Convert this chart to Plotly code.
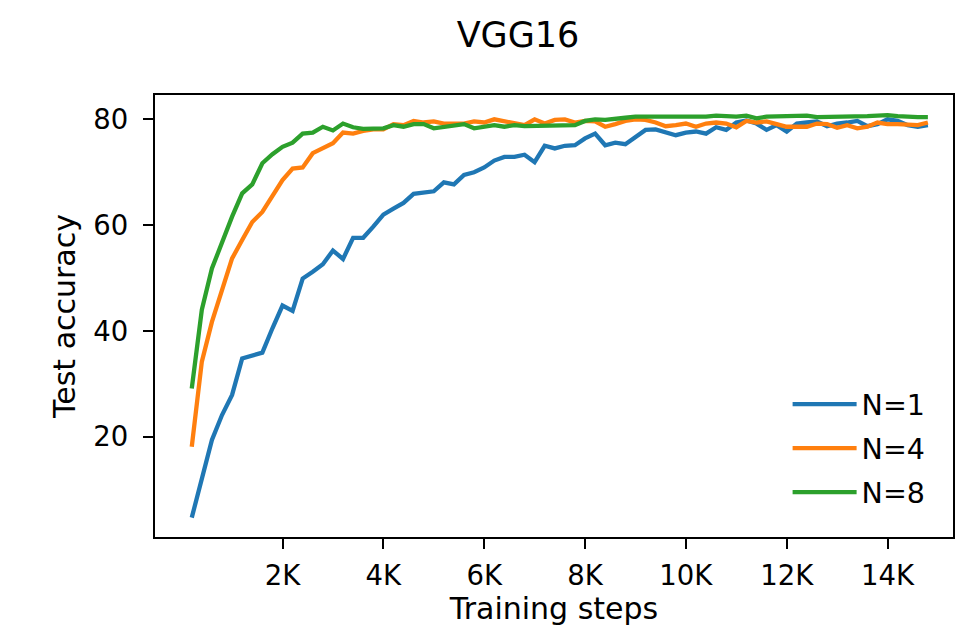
import plotly.graph_objects as go

steps = [200 * k for k in range(1, 75)]

acc_n1 = [4.7, 12.1, 19.4, 24.1, 27.9, 34.8, 35.4, 35.9, 40.5, 44.8,
          43.8, 49.9, 51.2, 52.6, 55.2, 53.6, 57.6, 57.6, 59.7, 62.0,
          63.1, 64.2, 65.9, 66.1, 66.4, 68.1, 67.7, 69.5, 70.0, 70.9,
          72.2, 72.9, 72.9, 73.3, 71.9, 75.0, 74.5, 75.0, 75.1, 76.4,
          77.3, 75.1, 75.6, 75.3, 76.6, 78.0, 78.1, 77.5, 77.0, 77.5,
          77.7, 77.3, 78.5, 78.0, 79.4, 79.8, 79.2, 78.0, 78.9, 77.7,
          79.2, 79.4, 79.6, 78.7, 79.2, 79.4, 79.7, 78.7, 79.1, 80.0,
          79.7, 78.9, 78.6, 78.9]

acc_n4 = [18.1, 34.2, 41.7, 47.4, 53.7, 57.2, 60.6, 62.5, 65.4, 68.5,
          70.7, 70.9, 73.6, 74.6, 75.5, 77.5, 77.3, 77.8, 78.1, 78.1,
          79.1, 78.9, 79.7, 79.4, 79.6, 79.2, 79.1, 79.2, 79.6, 79.4,
          80.0, 79.6, 79.4, 78.9, 80.0, 79.2, 79.9, 80.0, 79.4, 79.7,
          79.6, 78.6, 79.1, 79.7, 80.0, 79.9, 79.4, 78.7, 78.9, 79.2,
          78.6, 79.2, 79.4, 79.2, 78.5, 79.7, 79.4, 79.6, 79.1, 78.6,
          78.6, 78.6, 79.2, 79.1, 78.4, 78.9, 78.3, 78.6, 79.4, 79.1,
          79.1, 78.9, 78.9, 79.4]

acc_n8 = [29.1, 44.0, 51.8, 56.9, 61.6, 66.0, 67.7, 71.7, 73.4, 74.8,
          75.6, 77.3, 77.5, 78.6, 77.9, 79.2, 78.5, 78.2, 78.2, 78.3,
          78.9, 78.6, 79.1, 79.1, 78.3, 78.6, 78.7, 79.1, 78.3, 78.6,
          78.9, 78.6, 78.9, 78.7, 78.7, 78.9, 78.7, 78.8, 78.9, 79.7,
          80.0, 79.9, 80.0, 80.3, 80.5, 80.5, 80.4, 80.3, 80.5, 80.5,
          80.5, 80.5, 80.7, 80.5, 80.5, 80.7, 80.2, 80.5, 80.5, 80.6,
          80.5, 80.7, 80.4, 80.4, 80.4, 80.5, 80.5, 80.6, 80.7, 80.8,
          80.6, 80.4, 80.4, 80.4]

series_names = ["N=1", "N=4", "N=8"]
series_colors = ["#1f77b4", "#ff7f0e", "#2ca02c"]

x_tick_vals = [2000, 4000, 6000, 8000, 10000, 12000, 14000]
x_tick_text = ["2K", "4K", "6K", "8K", "10K", "12K", "14K"]
y_tick_vals = [20, 40, 60, 80]

FONT = "DejaVu Sans"

fig = go.Figure()
for name, ys, col in zip(series_names, [acc_n1, acc_n4, acc_n8], series_colors):
    fig.add_trace(go.Scatter(
        x=steps, y=ys, mode="lines", name=name, legendgroup=name,
        line=dict(color=col, width=4.3),
    ))

axis_common = dict(
    showgrid=False, zeroline=False, showline=True, mirror=True,
    linecolor="black", linewidth=2.3, ticks="outside", ticklen=10,
    tickwidth=2.3, tickcolor="black", automargin=False,
    tickfont=dict(family=FONT, size=27.5, color="black"),
)

# The page body has an 8px default margin, so the figure is sized to fit
# the window from (8, 8).
fig.update_layout(
    width=959, height=618,
    paper_bgcolor="white", plot_bgcolor="white",
    margin=dict(l=147, r=13.5, t=87, b=89, autoexpand=False),
    title=dict(text="VGG16", x=510 / 959, xanchor="center", xref="container",
               y=1 - 27 / 618, yanchor="middle", yref="container",
               font=dict(family=FONT, size=35, color="black")),
    xaxis=dict(range=[-529, 15298], tickvals=x_tick_vals, ticktext=x_tick_text,
               ticklabelstandoff=3,
               title=dict(text="Training steps", standoff=4,
                          font=dict(family=FONT, size=30, color="black")),
               **axis_common),
    yaxis=dict(range=[1.04, 84.6], tickvals=y_tick_vals,
               ticklabelstandoff=9,
               title=dict(text="Test accuracy", standoff=8.5,
                          font=dict(family=FONT, size=30, color="black")),
               **axis_common),
    legend=dict(x=(788 - 155) / 798.5, xanchor="left",
                y=(537 - 379) / 442, yanchor="top",
                bgcolor="rgba(0,0,0,0)", borderwidth=0,
                font=dict(family=FONT, size=28.5, color="black"),
                itemwidth=64, tracegroupgap=4, traceorder="grouped"),
    showlegend=True,
)

fig.write_html("out.html")
